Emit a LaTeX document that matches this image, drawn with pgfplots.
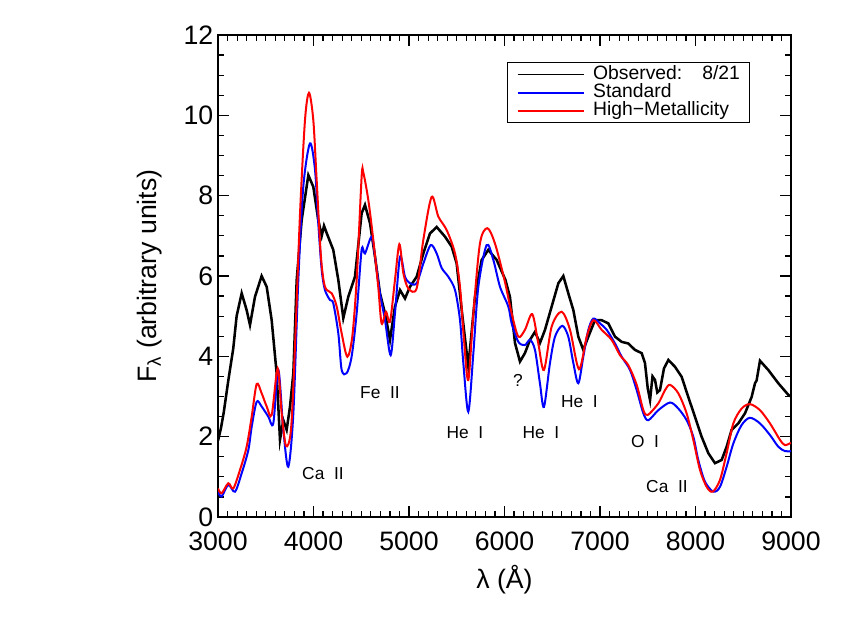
\documentclass[border=0pt]{standalone}
\usepackage{fontspec}
\setmainfont{Liberation Sans}
\usepackage{pgfplots}
\pgfplotsset{compat=1.18}
\usepackage{pgfplotstable}

% observed spectrum, 8/21
\pgfplotstableread{
x y
3000 1.9
3030 2.2
3060 2.6
3108 3.4
3160 4.2
3195 5.0
3248 5.57
3300 5.15
3335 4.78
3387 5.48
3457 6.0
3510 5.73
3562 4.9
3614 3.58
3649 1.92
3684 2.41
3719 2.17
3754 2.75
3789 3.58
3824 5.9
3876 7.39
3946 8.51
3998 8.22
4050 7.39
4086 7.0
4110 7.25
4138 7.07
4207 6.65
4260 5.9
4312 4.95
4364 5.48
4434 5.98
4504 7.56
4539 7.77
4592 7.31
4644 6.48
4696 5.57
4749 5.07
4801 4.41
4853 5.24
4906 5.65
4958 5.44
5010 5.73
5080 5.98
5150 6.56
5220 7.06
5290 7.22
5377 6.98
5447 6.73
5499 6.31
5552 5.15
5621 3.74
5691 5.48
5761 6.4
5830 6.65
5918 6.4
6010 5.9
6057 5.48
6110 4.33
6162 3.87
6214 4.08
6267 4.41
6319 4.61
6371 4.33
6424 4.66
6494 5.24
6564 5.82
6616 6.0
6668 5.57
6721 5.15
6773 4.49
6825 4.16
6878 4.49
6947 4.9
7017 4.9
7087 4.82
7157 4.49
7227 4.36
7296 4.32
7366 4.16
7436 4.08
7471 3.83
7500 3.2
7524 2.91
7550 3.5
7576 3.41
7600 3.1
7628 3.16
7670 3.7
7716 3.91
7785 3.74
7855 3.49
7924 2.99
7994 2.5
8064 2.0
8134 1.59
8204 1.34
8274 1.42
8326 1.75
8378 2.17
8448 2.33
8518 2.58
8588 2.99
8623 3.33
8640 3.4
8675 3.89
8762 3.66
8867 3.33
8972 3.04
9000 3.0
}\observed

% standard model
\pgfplotstableread{
x y
3000 0.63
3038 0.51
3108 0.8
3178 0.63
3248 1.09
3318 1.67
3353 2.25
3405 2.87
3457 2.75
3527 2.5
3579 2.33
3632 3.66
3684 2.17
3736 1.25
3789 2.58
3841 5.9
3893 8.22
3963 9.3
4016 8.64
4050 7.31
4086 6.15
4120 5.65
4173 5.4
4207 5.32
4260 4.57
4295 3.66
4347 3.58
4399 3.99
4452 5.07
4504 6.65
4539 6.56
4609 6.98
4644 6.48
4696 5.57
4749 4.9
4808 4.03
4853 5.07
4906 6.48
4958 5.98
5010 5.82
5080 5.82
5150 6.31
5227 6.77
5290 6.56
5342 6.2
5412 5.98
5482 5.65
5534 4.9
5569 3.83
5621 2.62
5674 4.08
5726 5.73
5813 6.77
5883 6.4
5953 5.73
6040 5.24
6075 4.82
6145 4.36
6214 4.28
6267 4.41
6319 4.16
6371 3.33
6413 2.74
6476 3.83
6529 4.49
6605 4.76
6668 4.49
6721 3.83
6773 3.33
6825 3.99
6878 4.66
6930 4.94
7000 4.82
7070 4.66
7157 4.32
7227 3.99
7314 3.66
7384 3.16
7454 2.58
7506 2.41
7611 2.66
7733 2.85
7820 2.7
7907 2.41
7977 2.0
8029 1.42
8099 0.88
8187 0.63
8256 0.75
8326 1.25
8396 1.83
8483 2.29
8570 2.47
8675 2.33
8780 2.04
8867 1.75
8937 1.64
9000 1.64
}\standard

% high-metallicity model
\pgfplotstableread{
x y
3000 0.71
3038 0.59
3108 0.84
3160 0.71
3230 1.17
3300 1.75
3353 2.5
3405 3.31
3457 3.08
3510 2.75
3562 2.54
3625 3.7
3667 2.58
3712 1.77
3764 2.17
3806 4.24
3859 7.56
3911 9.88
3953 10.56
3998 9.88
4033 8.39
4078 6.48
4120 5.73
4190 5.57
4243 5.24
4295 4.57
4354 3.99
4406 4.49
4452 5.9
4504 8.47
4522 8.57
4574 7.89
4626 6.9
4678 5.73
4713 4.82
4759 5.11
4801 4.86
4853 5.9
4899 6.79
4941 6.07
4993 5.69
5080 5.69
5150 6.9
5237 7.97
5307 7.48
5395 7.14
5482 6.56
5534 5.73
5576 4.41
5621 3.41
5674 5.07
5743 6.81
5820 7.19
5900 6.81
6000 5.9
6075 5.07
6145 4.49
6214 4.66
6291 5.05
6354 4.32
6413 3.66
6494 4.74
6598 5.11
6686 4.66
6780 3.68
6861 4.49
6930 4.9
7017 4.66
7122 4.41
7209 4.03
7296 3.78
7384 3.29
7454 2.66
7500 2.54
7611 2.83
7681 3.16
7733 3.29
7820 3.08
7907 2.58
7977 1.92
8047 1.17
8117 0.75
8180 0.63
8256 0.92
8326 1.59
8396 2.33
8483 2.7
8570 2.81
8675 2.66
8780 2.33
8885 1.92
8937 1.79
9000 1.85
}\highmet

\begin{document}
\begin{tikzpicture}
\useasboundingbox (-163.5pt,-79.5pt) rectangle (470.25pt,387.75pt);
\begin{axis}[
    at={(0,0)}, anchor=south west,
    width=429.75pt, height=361.5pt,
    scale only axis,
    xmin=3000, xmax=9000,
    ymin=0, ymax=12,
    xtick={3000,4000,...,9000},
    ytick={0,2,...,12},
    minor x tick num=9,
    minor y tick num=3,
    scaled ticks=false,
    /pgf/number format/1000 sep={},
    /pgf/number format/assume math mode=true,
    tick align=inside,
    major tick length=8.25pt,
    minor tick length=4.5pt,
    every tick/.style={black, line width=0.9pt},
    axis line style={line width=1.2pt},
    tick label style={font=\fontsize{20}{24}\selectfont},
    xticklabel style={yshift=-8pt},
    label style={font=\fontsize{20}{24}\selectfont},
    xlabel={λ (Å)},
    ylabel={F\textsubscript{λ} (arbitrary units)},
    xlabel style={at={(axis description cs:0.5,-0.130)}, anchor=center},
    ylabel style={at={(axis description cs:-0.119,0.5)}, anchor=center},
    legend style={at={(0.504,0.944)}, anchor=north west, draw=black,
        line width=0.9pt, fill=white, inner xsep=7pt, inner ysep=2pt,
        font=\fontsize{14.5}{15}\selectfont, row sep=0pt, column sep=6pt,
        nodes={inner sep=0pt, text height=10.6pt, text depth=3.1pt}},
    legend cell align=left,
    legend image code/.code={\draw[#1, line width=1.3pt] (4pt,0pt) -- (54pt,0pt);},
]
\addplot[black, line width=1.9pt] table[x=x, y=y] {\observed};
\addlegendentry{Observed:\hspace{15pt}8/21}
\addplot[blue, line width=1.5pt, smooth, tension=0.5] table[x=x, y=y] {\standard};
\addlegendentry{Standard}
\addplot[red, line width=1.5pt, smooth, tension=0.5] table[x=x, y=y] {\highmet};
\addlegendentry{High−Metallicity}

\begin{scope}[every node/.style={font=\fontsize{13}{15}\selectfont}]
\node at (axis cs:4099,1.07) {Ca\ \ II};
\node at (axis cs:4696,3.09) {Fe\ \ II};
\node at (axis cs:5586,2.09) {He\ \ I};
\node at (axis cs:6141,3.39) {?};
\node at (axis cs:6382,2.09) {He\ \ I};
\node at (axis cs:6785,2.86) {He\ \ I};
\node at (axis cs:7471,1.89) {O\ \ I};
\node at (axis cs:7701,0.75) {Ca\ \ II};
\end{scope}
\end{axis}
\end{tikzpicture}
\end{document}
